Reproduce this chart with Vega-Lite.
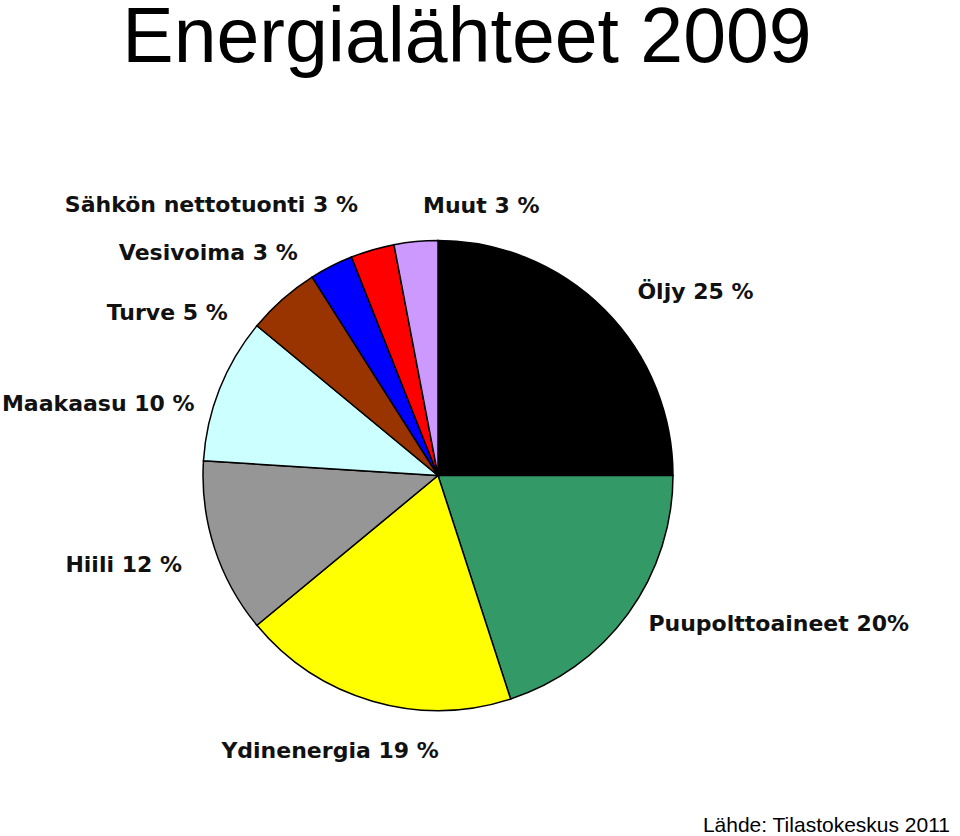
{
  "$schema": "https://vega.github.io/schema/vega-lite/v6.json",
  "width": 960,
  "height": 836,
  "autosize": {"type": "fit", "contains": "padding"},
  "padding": 0,
  "background": "white",
  "title": {
    "text": "Energialähteet 2009",
    "font": "Liberation Sans",
    "fontSize": 77,
    "fontWeight": "normal",
    "color": "black",
    "anchor": "middle",
    "dx": -13,
    "offset": 37
  },
  "config": {
    "view": {"stroke": null},
    "text": {"font": "DejaVu Sans", "fontWeight": "bold", "fontSize": 22, "color": "#111111", "radius": 265, "baseline": "alphabetic"}
  },
  "data": {
    "values": [
      {"category": "Öljy", "label": "Öljy 25 %", "value": 25, "order": 1},
      {"category": "Puupolttoaineet", "label": "Puupolttoaineet 20%", "value": 20, "order": 2},
      {"category": "Ydinenergia", "label": "Ydinenergia 19 %", "value": 19, "order": 3},
      {"category": "Hiili", "label": "Hiili 12 %", "value": 12, "order": 4},
      {"category": "Maakaasu", "label": "Maakaasu 10 %", "value": 10, "order": 5},
      {"category": "Turve", "label": "Turve 5 %", "value": 5, "order": 6},
      {"category": "Vesivoima", "label": "Vesivoima 3 %", "value": 3, "order": 7},
      {"category": "Sähkön nettotuonti", "label": "Sähkön nettotuonti 3 %", "value": 3, "order": 8},
      {"category": "Muut", "label": "Muut 3 %", "value": 3, "order": 9}
    ]
  },
  "encoding": {
    "theta": {"field": "value", "type": "quantitative", "stack": true},
    "order": {"field": "order", "type": "quantitative"},
    "detail": {"field": "category", "type": "nominal"}
  },
  "layer": [
    {
      "mark": {"type": "arc", "outerRadius": 235, "stroke": "#000000", "strokeWidth": 1.5, "x": {"expr": "width/2 - 42"}},
      "encoding": {
        "color": {
          "field": "category",
          "type": "nominal",
          "scale": {
            "domain": ["Öljy", "Puupolttoaineet", "Ydinenergia", "Hiili", "Maakaasu", "Turve", "Vesivoima", "Sähkön nettotuonti", "Muut"],
            "range": ["#000000", "#339966", "#FFFF00", "#969696", "#CCFFFF", "#993300", "#0000FF", "#FF0000", "#CC99FF"]
          },
          "legend": null
        }
      }
    },
    {
      "mark": {"type": "text", "align": "left", "dx": 12, "dy": 11, "x": {"expr": "width/2 - 42"}},
      "encoding": {"text": {"condition": {"test": "datum.category === 'Öljy'", "field": "label", "type": "nominal"}, "value": ""}}
    },
    {
      "mark": {"type": "text", "align": "left", "dx": -4, "dy": 0, "x": {"expr": "width/2 - 42"}},
      "encoding": {"text": {"condition": {"test": "datum.category === 'Puupolttoaineet'", "field": "label", "type": "nominal"}, "value": ""}}
    },
    {
      "mark": {"type": "text", "align": "center", "dx": -34, "dy": 28, "x": {"expr": "width/2 - 42"}},
      "encoding": {"text": {"condition": {"test": "datum.category === 'Ydinenergia'", "field": "label", "type": "nominal"}, "value": ""}}
    },
    {
      "mark": {"type": "text", "align": "right", "dx": -4, "dy": 15, "x": {"expr": "width/2 - 42"}},
      "encoding": {"text": {"condition": {"test": "datum.category === 'Hiili'", "field": "label", "type": "nominal"}, "value": ""}}
    },
    {
      "mark": {"type": "text", "align": "right", "dx": 3, "dy": 33, "x": {"expr": "width/2 - 42"}},
      "encoding": {"text": {"condition": {"test": "datum.category === 'Maakaasu'", "field": "label", "type": "nominal"}, "value": ""}}
    },
    {
      "mark": {"type": "text", "align": "right", "dx": -35, "dy": 43, "x": {"expr": "width/2 - 42"}},
      "encoding": {"text": {"condition": {"test": "datum.category === 'Turve'", "field": "label", "type": "nominal"}, "value": ""}}
    },
    {
      "mark": {"type": "text", "align": "right", "dx": -20, "dy": 21, "x": {"expr": "width/2 - 42"}},
      "encoding": {"text": {"condition": {"test": "datum.category === 'Vesivoima'", "field": "label", "type": "nominal"}, "value": ""}}
    },
    {
      "mark": {"type": "text", "align": "right", "dx": -6, "dy": -9, "x": {"expr": "width/2 - 42"}},
      "encoding": {"text": {"condition": {"test": "datum.category === 'Sähkön nettotuonti'", "field": "label", "type": "nominal"}, "value": ""}}
    },
    {
      "mark": {"type": "text", "align": "left", "dx": 10, "dy": 1, "x": {"expr": "width/2 - 42"}},
      "encoding": {"text": {"condition": {"test": "datum.category === 'Muut'", "field": "label", "type": "nominal"}, "value": ""}}
    },
    {
      "data": {"values": [{"source": "Lähde: Tilastokeskus 2011"}]},
      "mark": {"type": "text", "font": "Liberation Sans", "fontWeight": "normal", "fontSize": 21, "color": "black", "align": "right", "baseline": "bottom", "radius": 0, "x": {"expr": "width - 10"}, "y": {"expr": "height"}},
      "encoding": {"text": {"field": "source", "type": "nominal"}, "theta": null, "order": null, "detail": null}
    }
  ]
}
